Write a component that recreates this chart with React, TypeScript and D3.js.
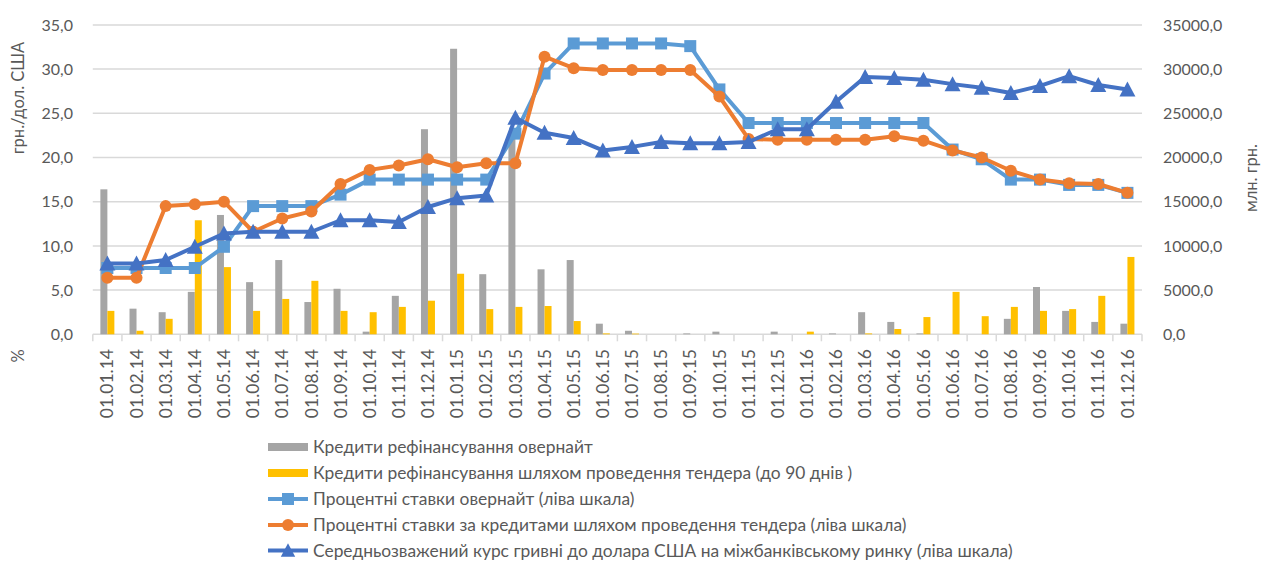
import React from "react";
import * as d3 from "d3";

const dates = [
  "01.01.14","01.02.14","01.03.14","01.04.14","01.05.14","01.06.14","01.07.14","01.08.14","01.09.14","01.10.14","01.11.14","01.12.14",
  "01.01.15","01.02.15","01.03.15","01.04.15","01.05.15","01.06.15","01.07.15","01.08.15","01.09.15","01.10.15","01.11.15","01.12.15",
  "01.01.16","01.02.16","01.03.16","01.04.16","01.05.16","01.06.16","01.07.16","01.08.16","01.09.16","01.10.16","01.11.16","01.12.16",
];

// млн. грн. (right axis)
const overnightLoans = [
  16400, 2900, 2500, 4800, 13500, 5900, 8400, 3650, 5150, 300, 4350, 23200,
  32300, 6800, 22500, 7350, 8400, 1200, 400, 0, 100, 300, 0, 300,
  0, 100, 2500, 1400, 100, 0, 0, 1750, 5350, 2650, 1400, 1200,
];
const tenderLoans = [
  2650, 400, 1750, 12900, 7600, 2650, 4000, 6050, 2650, 2500, 3100, 3800,
  6850, 2850, 3100, 3200, 1500, 100, 80, 0, 0, 0, 0, 0,
  300, 0, 100, 600, 1950, 4800, 2050, 3100, 2650, 2850, 4350, 8750,
];

// left axis
const overnightRate = [
  7.5, 7.5, 7.5, 7.5, 9.9, 14.5, 14.5, 14.5, 15.8, 17.5, 17.5, 17.5,
  17.5, 17.5, 22.7, 29.5, 32.9, 32.9, 32.9, 32.9, 32.6, 27.7, 23.9, 23.9,
  23.9, 23.9, 23.9, 23.9, 23.9, 20.9, 19.8, 17.5, 17.5, 16.9, 16.9, 16.0,
];
const tenderRate = [
  6.4, 6.4, 14.5, 14.7, 15.0, 11.6, 13.1, 13.9, 17.0, 18.6, 19.1, 19.8,
  18.9, 19.35, 19.35, 31.4, 30.1, 29.9, 29.9, 29.9, 29.9, 26.9, 22.1, 22.0,
  22.0, 22.0, 22.0, 22.4, 21.9, 20.8, 20.0, 18.5, 17.5, 17.1, 17.0, 16.0,
];
const exchangeRate = [
  8.0, 8.0, 8.4, 9.9, 11.4, 11.6, 11.6, 11.6, 12.9, 12.9, 12.7, 14.4,
  15.4, 15.7, 24.5, 22.8, 22.2, 20.8, 21.2, 21.75, 21.6, 21.6, 21.75, 23.2,
  23.2, 26.3, 29.1, 29.0, 28.8, 28.3, 27.9, 27.3, 28.1, 29.2, 28.2, 27.7,
];

const leftTicks = [0, 5, 10, 15, 20, 25, 30, 35];
const rightTicks = [0, 5000, 10000, 15000, 20000, 25000, 30000, 35000];

const legendLabels = [
  "Кредити рефінансування овернайт",
  "Кредити рефінансування шляхом проведення тендера (до 90 днів )",
  "Процентні ставки овернайт (ліва шкала)",
  "Процентні ставки за кредитами шляхом проведення тендера (ліва шкала)",
  "Середньозважений курс гривні до долара США на міжбанківському ринку (ліва шкала)",
];

const C_GRAY = "#A5A5A5";
const C_YEL = "#FFC000";
const C_LBLUE = "#5B9BD5";
const C_ORANGE = "#ED7D31";
const C_DBLUE = "#4472C4";
const TEXT = "#595959";
const GRID = "#D9D9D9";
const FONT = "Lato, 'Open Sans', sans-serif";

export default function App() {
  const W = 1265, H = 562;
  const x0 = 92.8, x1 = 1142;
  const yTop = 24.9, yBot = 334.3;

  const x = d3.scaleBand<string>().domain(dates).range([x0, x1]).padding(0);
  const yL = d3.scaleLinear().domain([0, 35]).range([yBot, yTop]);
  const yR = d3.scaleLinear().domain([0, 35000]).range([yBot, yTop]);
  const cx = (d: string) => (x(d) as number) + x.bandwidth() / 2;
  const barW = 7;

  const fmtL = (v: number) => v.toFixed(1).replace(".", ",");
  const fmtR = (v: number) => v.toFixed(1).replace(".", ",");

  const lineGen = (vals: number[]) =>
    d3.line<number>().x((_, i) => cx(dates[i])).y((v) => yL(v))(vals) || "";

  const tri = (px: number, py: number, s = 1) =>
    `M${px},${py - 8 * s}L${px + 8 * s},${py + 7 * s}L${px - 8 * s},${py + 7 * s}Z`;

  const legendY = [447, 473, 499, 525, 550.5];
  const lgX0 = 268, lgX1 = 308, lgTx = 313;

  return (
    <svg width={W} height={H} style={{ position: "absolute", left: 0, top: 0, background: "#fff" }} fontFamily={FONT}>
      {/* gridlines */}
      {leftTicks.map((t) => (
        <line key={"g" + t} x1={x0} x2={x1} y1={yL(t)} y2={yL(t)} stroke={GRID} strokeWidth={1.5} />
      ))}
      {/* x ticks */}
      {d3.range(dates.length + 1).map((i) => {
        const xx = x0 + i * x.bandwidth();
        return <line key={"t" + i} x1={xx} x2={xx} y1={yBot} y2={yBot + 7} stroke={GRID} strokeWidth={1.5} />;
      })}
      {/* bars */}
      {dates.map((d, i) => (
        <g key={"b" + d}>
          <rect x={cx(d) - barW} y={yR(overnightLoans[i])} width={barW} height={yBot - yR(overnightLoans[i])} fill={C_GRAY} />
          <rect x={cx(d)} y={yR(tenderLoans[i])} width={barW} height={yBot - yR(tenderLoans[i])} fill={C_YEL} />
        </g>
      ))}
      {/* lines */}
      <path d={lineGen(overnightRate)} fill="none" stroke={C_LBLUE} strokeWidth={4} strokeLinejoin="round" />
      {overnightRate.map((v, i) => (
        <rect key={"s" + i} x={cx(dates[i]) - 6} y={yL(v) - 6} width={12} height={12} fill={C_LBLUE} />
      ))}
      <path d={lineGen(tenderRate)} fill="none" stroke={C_ORANGE} strokeWidth={4} strokeLinejoin="round" />
      {tenderRate.map((v, i) => (
        <circle key={"c" + i} cx={cx(dates[i])} cy={yL(v)} r={6} fill={C_ORANGE} />
      ))}
      <path d={lineGen(exchangeRate)} fill="none" stroke={C_DBLUE} strokeWidth={4} strokeLinejoin="round" />
      {exchangeRate.map((v, i) => (
        <path key={"tr" + i} d={tri(cx(dates[i]), yL(v))} fill={C_DBLUE} />
      ))}

      {/* left axis labels */}
      {leftTicks.map((t) => (
        <text key={"l" + t} x={73} y={yL(t)} dy="0.35em" textAnchor="end" fontSize={16} fill={TEXT}>{fmtL(t)}</text>
      ))}
      {/* right axis labels */}
      {rightTicks.map((t) => (
        <text key={"r" + t} x={1163} y={yR(t)} dy="0.35em" textAnchor="start" fontSize={16} fill={TEXT}>{fmtR(t)}</text>
      ))}
      {/* axis titles */}
      <text transform="translate(24,98) rotate(-90)" textAnchor="middle" fontSize={16.5} fill={TEXT}>грн./дол. США</text>
      <text transform="translate(24,356) rotate(-90)" textAnchor="middle" fontSize={16.5} fill={TEXT}>%</text>
      <text transform="translate(1257,178) rotate(-90)" textAnchor="middle" fontSize={16.5} fill={TEXT}>млн. грн.</text>

      {/* x labels */}
      {dates.map((d) => (
        <text key={"x" + d} transform={`translate(${cx(d)},${349}) rotate(-90)`} dy="0.35em" textAnchor="end" fontSize={17.5} fill={TEXT}>{d}</text>
      ))}

      {/* legend */}
      <rect x={lgX0} y={legendY[0] - 4} width={lgX1 - lgX0} height={8} fill={C_GRAY} />
      <rect x={lgX0} y={legendY[1] - 4} width={lgX1 - lgX0} height={8} fill={C_YEL} />
      <line x1={lgX0} x2={lgX1} y1={legendY[2]} y2={legendY[2]} stroke={C_LBLUE} strokeWidth={4} />
      <rect x={(lgX0 + lgX1) / 2 - 6} y={legendY[2] - 6} width={12} height={12} fill={C_LBLUE} />
      <line x1={lgX0} x2={lgX1} y1={legendY[3]} y2={legendY[3]} stroke={C_ORANGE} strokeWidth={4} />
      <circle cx={(lgX0 + lgX1) / 2} cy={legendY[3]} r={6} fill={C_ORANGE} />
      <line x1={lgX0} x2={lgX1} y1={legendY[4]} y2={legendY[4]} stroke={C_DBLUE} strokeWidth={4} />
      <path d={tri((lgX0 + lgX1) / 2, legendY[4], 0.9)} fill={C_DBLUE} />
      {legendLabels.map((l, i) => (
        <text key={"lg" + i} x={lgTx} y={legendY[i]} dy="0.35em" fontSize={17.4} fill={TEXT}>{l}</text>
      ))}
    </svg>
  );
}
